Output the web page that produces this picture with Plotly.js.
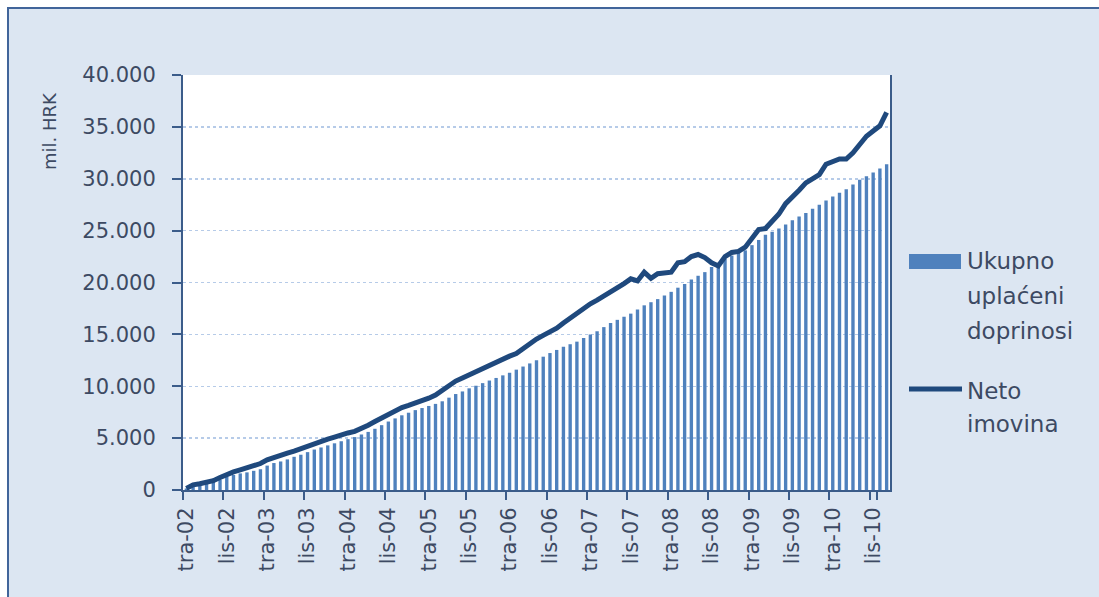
<!DOCTYPE html>
<html>
<head>
<meta charset="utf-8">
<script src="https://cdn.plot.ly/plotly-3.0.1.min.js"></script>
<style>
  html, body { margin: 0; padding: 0; background: #ffffff; overflow: hidden; }
  #frame {
    position: absolute; left: 7px; top: 7px; width: 1200px; height: 700px;
    border-left: 2px solid #41659a; border-top: 2px solid #41659a;
    background: #dce6f2;
  }
  #chart { position: absolute; left: 0; top: 0; width: 1090px; height: 588px; }
</style>
</head>
<body>
<div id="frame"><div id="chart"></div></div>
<script>
// monthly, tra-02 .. pro-10 (mil. HRK)
const monthNames = ["sij", "velj", "ožu", "tra", "svi", "lip", "srp", "kol", "ruj", "lis", "stu", "pro"];
const startYear = 2002, startMonth = 3, monthCount = 105;

const contributions = [
  150, 300, 450, 600, 800, 1000, 1300, 1450, 1600, 1700,
  1850, 2000, 2350, 2600, 2750, 2950, 3200, 3400, 3650, 3900,
  4100, 4300, 4500, 4700, 4900, 5100, 5350, 5600, 5900, 6250,
  6600, 6900, 7200, 7450, 7700, 7900, 8100, 8300, 8550, 8900,
  9250, 9500, 9800, 10050, 10300, 10550, 10800, 11050, 11300, 11600,
  11900, 12200, 12500, 12850, 13200, 13500, 13800, 14050, 14300, 14650,
  15000, 15300, 15700, 16100, 16400, 16700, 17000, 17400, 17800, 18100,
  18400, 18750, 19100, 19500, 19850, 20300, 20650, 21000, 21500, 21900,
  22300, 22600, 22850, 23100, 23600, 24100, 24600, 24900, 25200, 25600,
  26000, 26350, 26700, 27100, 27500, 27900, 28300, 28650, 29000, 29450,
  29900, 30250, 30600, 31000, 31400
];

const netAssets = [
  150, 500, 600, 700, 900, 1200, 1500, 1750, 1950, 2150,
  2350, 2550, 2900, 3150, 3350, 3550, 3750, 4000, 4250, 4500,
  4700, 4900, 5100, 5350, 5500, 5650, 5900, 6250, 6600, 6950,
  7300, 7600, 7950, 8150, 8350, 8600, 8850, 9150, 9600, 10050,
  10500, 10800, 11100, 11400, 11800, 12100, 12400, 12650, 12900, 13150,
  13650, 14100, 14550, 14900, 15250, 15600, 16100, 16600, 17100, 17600,
  17950, 18300, 18700, 19050, 19400, 19900, 20350, 20150, 21000, 20400,
  20850, 20900, 21000, 21900, 22000, 22500, 22700, 22400, 21900, 21600,
  22500, 22900, 23000, 23400, 24300, 25100, 25200, 25900, 26600, 27600,
  28200, 28900, 29600, 30000, 30400, 31400, 31700, 31900, 31900, 32500,
  33300, 34100, 34600, 35100, 36400
];

const categories = [];
for (let i = 0; i < monthCount; i++) {
  const m = (startMonth + i) % 12;
  const y = startYear + Math.floor((startMonth + i) / 12);
  categories.push(monthNames[m] + "-" + String(y).slice(2));
}
const tickCats = categories.filter((c, i) => i % 6 === 0);

const textColor = "#3d4a63";
const axisColor = "#3b5c8a";
const font = "DejaVu Sans, sans-serif";

// plot area in page pixels, used to place legend and axis title
const area = { left: 183, right: 890, top: 75, bottom: 490 };
const px = X => (X - area.left) / (area.right - area.left);
const py = Y => (area.bottom - Y) / (area.bottom - area.top);

const bars = {
  x: categories,
  y: contributions,
  type: "bar",
  name: "Ukupno uplaćeni doprinosi",
  marker: { color: "#4f81bd", line: { width: 0 } },
  hoverinfo: "skip"
};

const line = {
  x: categories,
  y: netAssets,
  type: "scatter",
  mode: "lines",
  name: "Neto imovina",
  line: { color: "#1f497d", width: 5 },
  hoverinfo: "skip"
};

const legendText = (text, X, Y) => ({
  text, xref: "paper", yref: "paper", x: px(X), y: py(Y),
  xanchor: "left", yanchor: "middle", showarrow: false,
  font: { family: font, size: 23, color: textColor }
});

const layout = {
  width: 1090,
  height: 588,
  margin: { l: 174, r: 209, t: 66, b: 107, pad: 0 },
  paper_bgcolor: "rgba(0,0,0,0)",
  plot_bgcolor: "#ffffff",
  showlegend: false,
  separators: ",.",
  bargap: 0.5,
  font: { family: font, size: 21, color: textColor },
  xaxis: {
    type: "category",
    range: [-0.5, monthCount - 0.5],
    tickmode: "array",
    tickvals: tickCats,
    ticktext: tickCats,
    tickson: "boundaries",
    tickangle: -90,
    ticks: "outside",
    ticklen: 8,
    tickwidth: 2,
    tickcolor: axisColor,
    ticklabelstandoff: 7,
    showline: true,
    linecolor: axisColor,
    linewidth: 2,
    showgrid: false,
    zeroline: false,
    tickfont: { family: font, size: 21, color: textColor }
  },
  yaxis: {
    range: [0, 40000],
    dtick: 5000,
    tickformat: ",d",
    ticks: "outside",
    ticklen: 9,
    tickwidth: 2,
    tickcolor: axisColor,
    ticklabelstandoff: 12,
    showline: true,
    mirror: true,
    linecolor: axisColor,
    linewidth: 2,
    showgrid: true,
    gridcolor: "#b6cbe8",
    griddash: "dot",
    gridwidth: 1.5,
    zeroline: false,
    tickfont: { family: font, size: 21, color: textColor }
  },
  shapes: [
    {
      type: "rect", xref: "paper", yref: "paper",
      x0: px(909), x1: px(961), y0: py(269), y1: py(254),
      fillcolor: "#4f81bd", line: { width: 0 }
    },
    {
      type: "line", xref: "paper", yref: "paper",
      x0: px(909), x1: px(962), y0: py(389), y1: py(389),
      line: { color: "#1f497d", width: 5 }
    }
  ],
  annotations: [
    {
      text: "mil. HRK", xref: "paper", yref: "paper",
      x: px(50), y: py(131), xanchor: "center", yanchor: "middle",
      textangle: -90, showarrow: false,
      font: { family: font, size: 18, color: textColor }
    },
    legendText("Ukupno", 965, 261),
    legendText("uplaćeni", 965, 296),
    legendText("doprinosi", 965, 331),
    legendText("Neto", 965, 391),
    legendText("imovina", 965, 424)
  ]
};

const config = { displayModeBar: false, staticPlot: true };

Plotly.newPlot("chart", [bars, line], layout, config);
</script>
</body>
</html>
